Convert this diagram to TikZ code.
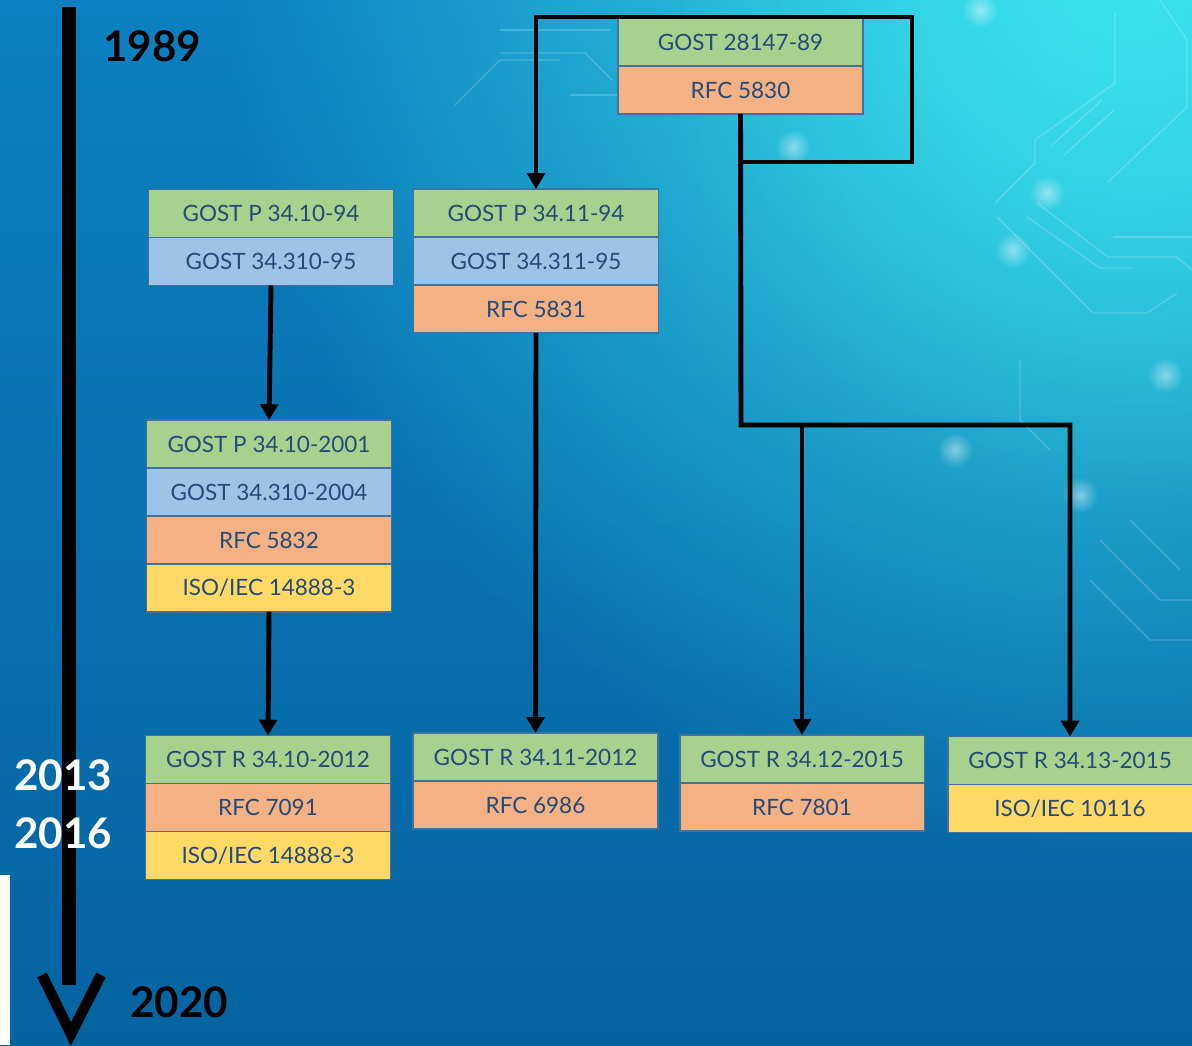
\documentclass[tikz,border=0pt]{standalone}
\usepackage{fontspec}
\setmainfont{Lato}
\usetikzlibrary{positioning,arrows.meta,fadings}

\definecolor{gostgreen}{HTML}{A9D18E}
\definecolor{gostblue}{HTML}{9DC3E6}
\definecolor{rfcorange}{HTML}{F4B183}
\definecolor{isoyellow}{HTML}{FFD966}
\definecolor{cellline}{HTML}{41719C}
\definecolor{celltext}{HTML}{234A7A}
\definecolor{bgdeep}{HTML}{0563A0}
\definecolor{bgmid}{HTML}{0C80C0}
\definecolor{bgcyan}{HTML}{3CE3EE}

\tikzfading[name=glowfade, inner color=transparent!0, outer color=transparent!100]

\tikzset{
  cell/.style={draw=cellline, line width=1.1pt, minimum width=4.9cm, minimum height=0.96cm,
    inner sep=0pt, outer sep=0pt, text=celltext, font=\fontsize{12.8}{15}\selectfont},
  gost/.style={cell, fill=gostgreen},
  gostold/.style={cell, fill=gostblue},
  rfc/.style={cell, fill=rfcorange},
  iso/.style={cell, fill=isoyellow},
  link/.style={line width=2.8pt, -{Triangle[width=10pt,length=9pt]}},
  year/.style={font=\fontsize{24}{28}\selectfont\bfseries, inner sep=0pt},
  trace/.style={white, opacity=0.2, line width=0.8pt},
}

\begin{document}
\begin{tikzpicture}[x=0.02cm, y=-0.02cm]
  \useasboundingbox (0,0) rectangle (1192,1045);

  % background
  \begin{scope}
    \clip (0,0) rectangle (1192,1045);
    \shade[top color=bgmid, bottom color=bgdeep] (0,0) rectangle (1192,1045);
    \fill[bgcyan, path fading=glowfade] (1120,-40) circle (900);
    \fill[bgcyan, path fading=glowfade, opacity=0.6] (1150,0) circle (500);
    % circuit traces
    \draw[trace] (455,105) -- (500,60) -- (560,60);
    \draw[trace] (500,30) -- (610,30);
    \draw[trace] (500,53) -- (585,53) -- (612,80);
    \draw[trace] (570,95) -- (620,95);
    \draw[trace] (1115,13) -- (1115,83) -- (1035,140) -- (1035,163) -- (995,203);
    \draw[trace] (1160,0) -- (1187,40) -- (1187,107) -- (1108,182);
    \draw[trace] (997,217) -- (1093,313) -- (1147,313) -- (1177,293);
    \draw[trace] (1027,217) -- (1100,268) -- (1133,268);
    \draw[trace] (1037,203) -- (1108,257) -- (1177,257) -- (1192,270);
    \draw[trace] (1113,237) -- (1192,237);
    \draw[trace] (1052,145) -- (1102,100);
    \draw[trace] (1064,155) -- (1114,110);
    \draw[trace] (1020,360) -- (1020,420) -- (1050,450);
    \draw[trace] (1100,540) -- (1160,600) -- (1192,600);
    \draw[trace] (1130,520) -- (1180,570);
    \draw[trace] (1090,580) -- (1150,640) -- (1192,640);
    \foreach \gx/\gy in {793/147, 1047/193, 955/450, 1080/495, 1165/375, 980/10, 1013/250}
      \fill[white, opacity=0.45, path fading=glowfade] (\gx,\gy) circle (18);
  \end{scope}
  \fill[white] (0,875) rectangle (10,1045);

  % timeline
  \coordinate (tstart) at (69,7);
  \coordinate (tend) at (69,985);
  \draw[line width=8pt] (tstart) -- (tend);
  \draw[line width=6pt, miter limit=10] (42,975) -- (71,1034) -- (101,975);

  \node[year, anchor=west] (y1989) at (103,46) {1989};
  \node[year, anchor=west, text=white] (y2013) at (14,775) {2013};
  \node[year, anchor=west, text=white] (y2016) at (14,833) {2016};
  \node[year, anchor=west] (y2020) at (130,1002) {2020};

  % standards
  \node[gost] (t1) at (740.5,42) {GOST 28147-89};
  \node[rfc, below=0pt of t1] (t2) {RFC 5830};

  \node[gost] (a1) at (271,213.5) {GOST P 34.10-94};
  \node[gostold, below=0pt of a1] (a1b) {GOST 34.310-95};

  \node[gost] (b1) at (536,213) {GOST P 34.11-94};
  \node[gostold, below=0pt of b1] (b1b) {GOST 34.311-95};
  \node[rfc, below=0pt of b1b] (b1c) {RFC 5831};

  \node[gost] (a2) at (269,444) {GOST P 34.10-2001};
  \node[gostold, below=0pt of a2] (a2b) {GOST 34.310-2004};
  \node[rfc, below=0pt of a2b] (a2c) {RFC 5832};
  \node[iso, below=0pt of a2c] (a2d) {ISO/IEC 14888-3};

  \node[gost] (a3) at (268,759.5) {GOST R 34.10-2012};
  \node[rfc, below=0pt of a3] (a3b) {RFC 7091};
  \node[iso, below=0pt of a3b] (a3c) {ISO/IEC 14888-3};

  \node[gost] (b3) at (535.5,757) {GOST R 34.11-2012};
  \node[rfc, below=0pt of b3] (b3b) {RFC 6986};

  \node[gost] (c3) at (802,759) {GOST R 34.12-2015};
  \node[rfc, below=0pt of c3] (c3b) {RFC 7801};

  \node[gost] (d3) at (1070,760.5) {GOST R 34.13-2015};
  \node[iso, below=0pt of d3] (d3b) {ISO/IEC 10116};

  % links
  \coordinate (ring) at (912,17);
  \coordinate (split) at (741,425);
  \draw[link] (t2.south) -- ++(0,48) -| (ring) -| (b1.north);
  \draw[link] (t2.south) -- (split) -| (d3.north);
  \draw[link] (split -| c3.north) -- (c3.north);
  \draw[link] (a1b.south) -- (a2.north);
  \draw[link] (a2d.south) -- (a3.north);
  \draw[link] (b1c.south) -- (b3.north);
\end{tikzpicture}
\end{document}
